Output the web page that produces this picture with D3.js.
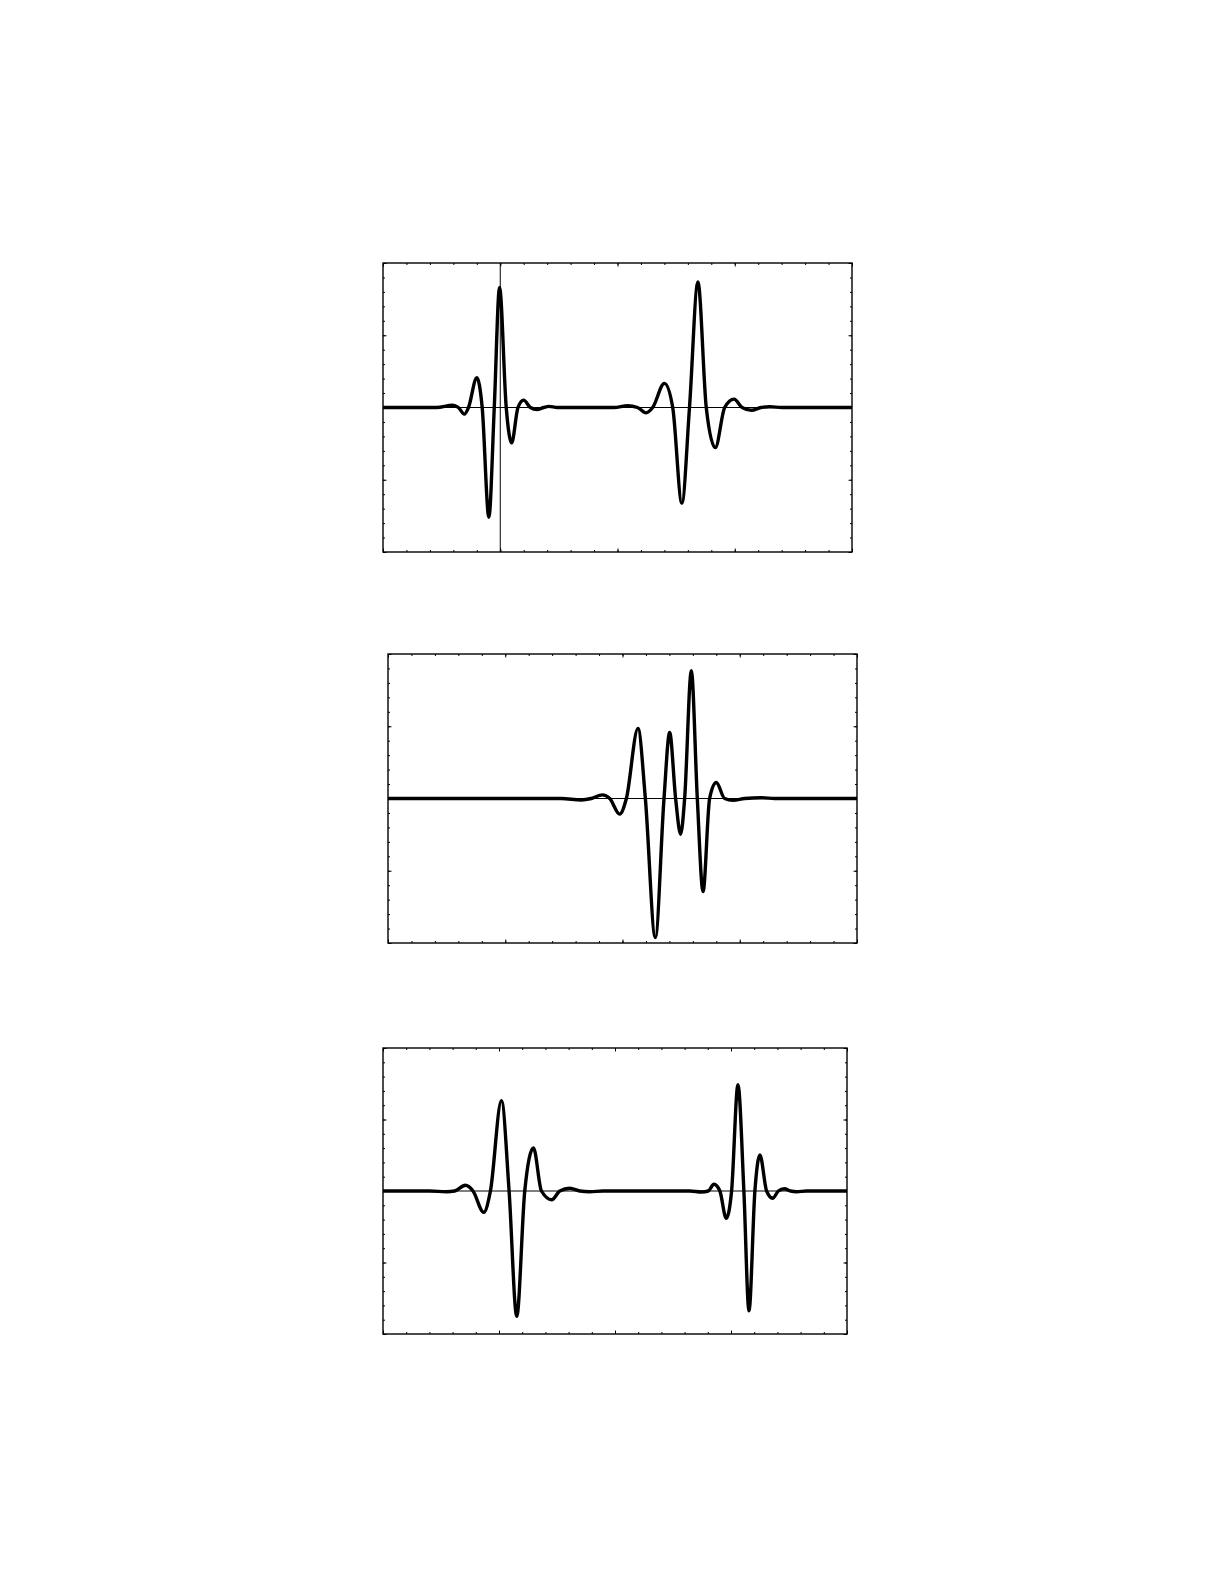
<!DOCTYPE html>
<html>
<head>
<meta charset="utf-8">
<script src="https://cdn.jsdelivr.net/npm/d3@7/dist/d3.min.js"></script>
<style>
  html, body { margin: 0; padding: 0; background: #fff; }
  svg { display: block; }
</style>
</head>
<body>
<script>
// wave samples: [x, amplitude], x in 0..4, amplitude in -1..1
const wave1 = [
  [0, 0], [0.457, 0], [0.594, 0.016], [0.643, 0], [0.694, -0.046], [0.729, 0],
  [0.8, 0.206], [0.846, 0], [0.903, -0.759], [0.949, 0], [0.994, 0.831], [1.051, 0],
  [1.097, -0.245], [1.151, 0], [1.2, 0.051], [1.257, 0], [1.314, -0.014], [1.371, 0],
  [1.414, 0.008], [1.486, 0], [1.971, 0], [2.086, 0.012], [2.171, 0], [2.243, -0.037],
  [2.3, 0], [2.4, 0.167], [2.471, 0], [2.549, -0.662], [2.614, 0], [2.686, 0.868],
  [2.757, 0], [2.834, -0.278], [2.914, 0], [2.994, 0.058], [3.063, 0], [3.143, -0.019],
  [3.223, 0], [3.3, 0.005], [3.4, 0], [4, 0]
];
const wave2 = [
  [0, 0], [1.478, 0], [1.649, -0.01], [1.734, 0], [1.828, 0.025], [1.891, 0],
  [1.976, -0.108], [2.033, 0], [2.132, 0.484], [2.195, 0], [2.28, -0.962], [2.354, 0],
  [2.402, 0.457], [2.453, 0], [2.496, -0.247], [2.53, 0], [2.587, 0.884], [2.638, 0],
  [2.687, -0.644], [2.743, 0], [2.8, 0.111], [2.871, 0], [2.942, -0.012], [3.042, 0],
  [3.184, 0.005], [3.298, 0], [4, 0]
];
const wave3 = [
  [0, 0], [0.403, 0], [0.546, -0.005], [0.618, 0], [0.71, 0.04], [0.776, 0],
  [0.868, -0.149], [0.926, 0], [1.021, 0.632], [1.087, 0], [1.153, -0.877], [1.222, 0],
  [1.297, 0.301], [1.366, 0], [1.455, -0.061], [1.524, 0], [1.61, 0.019], [1.697, 0],
  [1.783, -0.005], [1.898, 0], [2.646, 0], [2.746, -0.007], [2.804, 0], [2.853, 0.047],
  [2.904, 0], [2.959, -0.191], [3.005, 0], [3.06, 0.744], [3.111, 0], [3.155, -0.838],
  [3.206, 0], [3.249, 0.252], [3.307, 0], [3.359, -0.051], [3.408, 0], [3.459, 0.016],
  [3.514, 0], [3.566, -0.005], [3.652, 0], [4, 0]
];
const markers1 = [1];          // vertical cursor line in the first panel
const xMajor = [0, 1, 2, 3, 4];
const xMinor = d3.range(0, 21).map(i => i * 0.2);
const yMajor = [-1, -0.5, 0, 0.5, 1];
const yMinor = d3.range(-10, 11).map(i => i * 0.1);

const panels = [
  { data: wave1, markers: markers1, left: 383, top: 263, width: 469, height: 289 },
  { data: wave2, markers: [], left: 388, top: 654, width: 469, height: 289 },
  { data: wave3, markers: [], left: 383, top: 1048, width: 464, height: 286 }
];

const svg = d3.select('body').append('svg')
    .attr('width', 1225)
    .attr('height', 1585);

panels.forEach(p => {
    const g = svg.append('g').attr('transform', `translate(${p.left},${p.top})`);
    const x = d3.scaleLinear().domain([0, 4]).range([0, p.width]);
    const y = d3.scaleLinear().domain([-1, 1]).range([p.height, 0]);

    // inward ticks on all four sides, minor then major
    const tickSets = [
        [d3.axisBottom(x), xMinor, 2, `translate(0,${p.height})`],
        [d3.axisBottom(x), xMajor, 3.5, `translate(0,${p.height})`],
        [d3.axisTop(x), xMinor, 2, 'translate(0,0)'],
        [d3.axisTop(x), xMajor, 3.5, 'translate(0,0)'],
        [d3.axisLeft(y), yMinor, 2, 'translate(0,0)'],
        [d3.axisLeft(y), yMajor, 3.5, 'translate(0,0)'],
        [d3.axisRight(y), yMinor, 2, `translate(${p.width},0)`],
        [d3.axisRight(y), yMajor, 3.5, `translate(${p.width},0)`]
    ];
    tickSets.forEach(([axis, vals, len, tr]) => {
        const a = g.append('g')
            .attr('transform', tr)
            .call(axis.tickValues(vals).tickSize(-len).tickFormat(''));
        a.select('.domain').remove();
        a.selectAll('line').attr('stroke', '#000').attr('stroke-width', 1);
    });

    // zero line
    g.append('line')
        .attr('x1', 0).attr('x2', p.width)
        .attr('y1', y(0)).attr('y2', y(0))
        .attr('stroke', '#000').attr('stroke-width', 1);

    g.selectAll('.marker')
        .data(p.markers)
        .enter().append('line')
        .attr('class', 'marker')
        .attr('x1', d => x(d)).attr('x2', d => x(d))
        .attr('y1', 0).attr('y2', p.height)
        .attr('stroke', '#000').attr('stroke-width', 1);

    const line = d3.line()
        .x(d => x(d[0]))
        .y(d => y(d[1]))
        .curve(d3.curveMonotoneX);

    g.append('path')
        .datum(p.data)
        .attr('d', line)
        .attr('fill', 'none')
        .attr('stroke', '#000')
        .attr('stroke-width', 3.4)
        .attr('stroke-linejoin', 'round');

    g.append('rect')
        .attr('width', p.width)
        .attr('height', p.height)
        .attr('fill', 'none')
        .attr('stroke', '#000')
        .attr('stroke-width', 1.4);
});
</script>
</body>
</html>
